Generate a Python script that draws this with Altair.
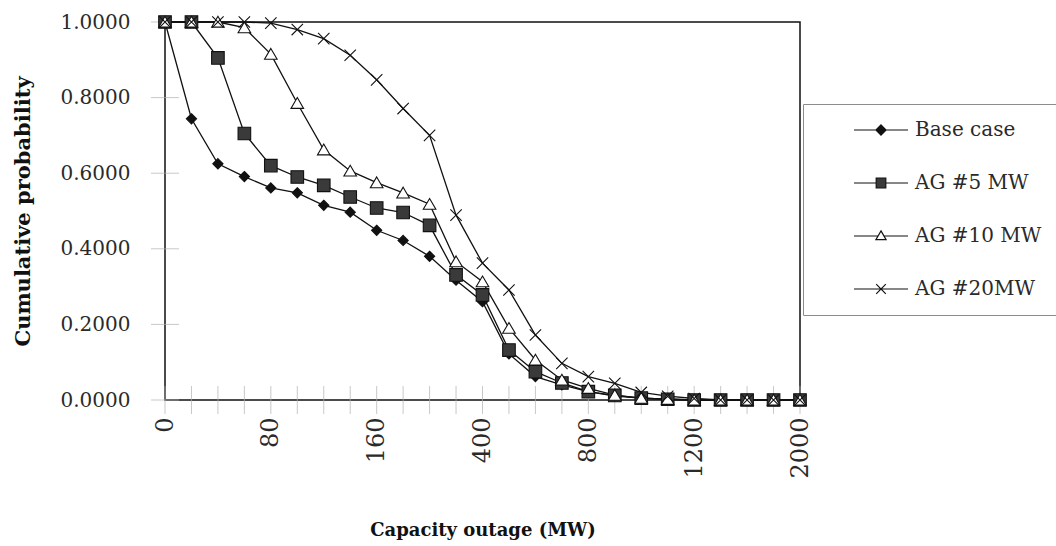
import altair as alt
import pandas as pd

# Capacity outage steps (MW) used as ordered categories on the x axis
capacity = ["0", "20", "40", "60", "80", "100", "120", "140", "160", "200", "250", "300",
            "400", "500", "600", "700", "800", "900", "1000", "1100", "1200", "1400",
            "1600", "1800", "2000"]
labelled_capacity = ["0", "80", "160", "400", "800", "1200", "2000"]
y_tick_values = [0.0, 0.2, 0.4, 0.6, 0.8, 1.0]

series_names = ["Base case", "AG #5 MW", "AG #10 MW", "AG #20MW"]

base_case = [1.0, 0.744, 0.625, 0.591, 0.561, 0.548, 0.515, 0.497, 0.449, 0.422, 0.38,
             0.317, 0.26, 0.122, 0.062, 0.04, 0.022, 0.01, 0.005, 0.002, 0.0, 0.0, 0.0, 0.0, 0.0]
ag_5mw = [1.0, 1.0, 0.905, 0.705, 0.62, 0.59, 0.568, 0.537, 0.508, 0.496, 0.462,
          0.331, 0.278, 0.132, 0.075, 0.045, 0.022, 0.012, 0.005, 0.002, 0.0, 0.0, 0.0, 0.0, 0.0]
ag_10mw = [1.0, 1.0, 1.0, 0.985, 0.915, 0.785, 0.662, 0.606, 0.575, 0.548, 0.518,
           0.366, 0.313, 0.19, 0.106, 0.053, 0.031, 0.013, 0.005, 0.002, 0.0, 0.0, 0.0, 0.0, 0.0]
ag_20mw = [1.0, 1.0, 1.0, 1.0, 0.997, 0.98, 0.956, 0.912, 0.847, 0.771, 0.70,
           0.489, 0.362, 0.291, 0.172, 0.097, 0.062, 0.044, 0.02, 0.01, 0.004, 0.0, 0.0, 0.0, 0.0]

# Marker shapes in the plot (unit paths scaled by the symbol size)
plot_shapes = [
    "M0,-0.85L0.85,0L0,0.85L-0.85,0Z",
    "M-1.05,-1.05L1.05,-1.05L1.05,1.05L-1.05,1.05Z",
    "M0,-0.95L1.05,0.85L-1.05,0.85Z",
    "M-0.95,-0.95L0.95,0.95M0.95,-0.95L-0.95,0.95",
]
# Legend keys: a short line run through each marker
legend_shapes = [
    "M-4.5,0L4.5,0M0,-0.85L0.85,0L0,0.85L-0.85,0Z",
    "M-4.5,0L-0.8,0M0.8,0L4.5,0M-0.8,-0.8L0.8,-0.8L0.8,0.8L-0.8,0.8Z",
    "M-4.5,0L-0.5,0M0.5,0L4.5,0M0,-0.85L0.85,0.6L-0.85,0.6Z",
    "M-4.5,0L4.5,0M-0.8,-0.8L0.8,0.8M0.8,-0.8L-0.8,0.8",
]
marker_fills = ["#111111", "#3a3a3a", "#ffffff", "#111111"]
marker_strokes = ["#111111"] * 4

rows = []
for name, values in zip(series_names, [base_case, ag_5mw, ag_10mw, ag_20mw]):
    for i, (cap, prob) in enumerate(zip(capacity, values)):
        rows.append({"series": name, "cap": cap, "idx": i, "prob": prob})
df = pd.DataFrame(rows)

xtick_df = pd.DataFrame({"cap": capacity, "prob": [0.0] * len(capacity)})
ytick_df = pd.DataFrame({"cap": [capacity[0]] * len(y_tick_values), "prob": y_tick_values})

FONT = "DejaVu Serif"
x_scale = alt.Scale(type="point", padding=0, domain=capacity)
y_scale = alt.Scale(domain=[0, 1], nice=False)

x_axis = alt.Axis(
    values=labelled_capacity, labelAngle=270, ticks=False, domain=False, grid=False,
    labelPadding=17, labelFont=FONT, labelFontSize=24, labelColor="#2a2a2a",
    title="Capacity outage (MW)", titleFont=FONT, titleFontSize=18, titleFontWeight="bold",
    titleColor="#111", titlePadding=43,
)
y_axis = alt.Axis(
    values=y_tick_values, format=".4f", ticks=False, domain=False, grid=False,
    labelPadding=35, labelFont=FONT, labelFontSize=20, labelColor="#2a2a2a",
    title="Cumulative probability", titleFont=FONT, titleFontSize=21, titleFontWeight="bold",
    titleColor="#111", titlePadding=27,
)


def xy():
    return dict(
        x=alt.X("cap:O", scale=x_scale, axis=x_axis),
        y=alt.Y("prob:Q", scale=y_scale, axis=y_axis),
    )


lines = alt.Chart(df).mark_line(color="#111", strokeWidth=1.3).encode(
    detail="series:N", order="idx:Q", **xy()
)

points = alt.Chart(df).mark_point(filled=True, stroke="#111", strokeWidth=1.1, size=144, opacity=1).encode(
    shape=alt.Shape("series:N", scale=alt.Scale(domain=series_names, range=plot_shapes), legend=None),
    fill=alt.Fill("series:N", scale=alt.Scale(domain=series_names, range=marker_fills), legend=None),
    **xy()
)

legend = alt.Legend(
    title=None, orient="none", legendX=638, legendY=82, direction="vertical",
    strokeColor="#8c8c8c", fillColor="white", padding=16,
    symbolSize=144, symbolStrokeWidth=1.2, symbolOpacity=1,
    symbolOffset=52, labelOffset=24,
    labelFont=FONT, labelFontSize=20, labelColor="#2a2a2a", rowPadding=33,
)
legend_keys = alt.Chart(df).mark_point(filled=True, strokeWidth=1.2, opacity=0).encode(
    shape=alt.Shape("series:N", scale=alt.Scale(domain=series_names, range=legend_shapes), legend=legend),
    fill=alt.Fill("series:N", scale=alt.Scale(domain=series_names, range=marker_fills), legend=legend),
    stroke=alt.Stroke("series:N", scale=alt.Scale(domain=series_names, range=marker_strokes), legend=legend),
    **xy()
)

x_ticks = alt.Chart(xtick_df).mark_tick(orient="vertical", size=28, thickness=1, color="#b0b0b0").encode(**xy())
y_ticks = alt.Chart(ytick_df).mark_tick(orient="horizontal", size=28, thickness=1, color="#b0b0b0").encode(**xy())

chart = (
    alt.layer(x_ticks, y_ticks, lines, points, legend_keys)
    .resolve_scale(shape="independent", fill="independent", stroke="independent")
    .properties(
        width=635, height=378,
        autosize=alt.AutoSizeParams(type="none"),
        padding={"left": 165, "top": 22, "right": 256, "bottom": 146},
        background="white",
    )
    .configure_view(stroke="#111", strokeWidth=1.5)
)

chart.save("out.html", embed_options={"renderer": "svg", "actions": False})
